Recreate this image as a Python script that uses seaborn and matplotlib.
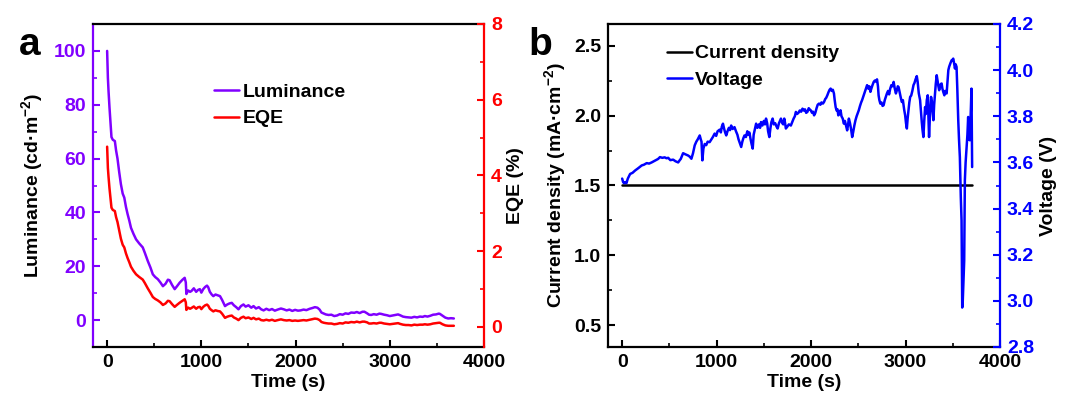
import matplotlib
matplotlib.use("Agg")
import matplotlib.pyplot as plt
from matplotlib.ticker import MultipleLocator, FormatStrFormatter
import seaborn as sns

# ---------------- data ----------------
# (a) luminance / EQE stability trace
time_a = [0, 8, 15, 25, 35, 46, 60, 82, 95, 110, 128, 146, 165, 182, 200, 217, 235, 253, 280, 307,
          340, 378, 400, 431, 460, 485, 510, 538, 565, 592, 620, 645, 663, 690, 717, 740, 770, 800, 823, 835,
          841, 860, 880, 895, 920, 945, 965, 984, 1000, 1020, 1040, 1060, 1073, 1090, 1110, 1127, 1150, 1175, 1198, 1220,
          1240, 1251, 1275, 1300, 1323, 1345, 1370, 1394, 1420, 1447, 1470, 1500, 1530, 1554, 1580, 1610, 1635, 1661, 1690, 1720,
          1750, 1780, 1810, 1845, 1875, 1905, 1935, 1965, 1995, 2025, 2053, 2085, 2115, 2150, 2180, 2205, 2232, 2255, 2275, 2300,
          2321, 2350, 2380, 2410, 2440, 2470, 2500, 2530, 2560, 2590, 2624, 2650, 2680, 2710, 2731, 2760, 2780, 2802, 2830, 2860,
          2890, 2909, 2940, 2970, 3000, 3030, 3060, 3088, 3110, 3140, 3170, 3200, 3230, 3260, 3290, 3320, 3350, 3372, 3400, 3430,
          3460, 3490, 3520, 3532, 3560, 3590, 3620, 3650, 3680]
luminance = [100, 90, 85, 79, 74, 68, 67, 66.5, 63, 60, 55, 50.5, 47, 45.5, 42, 39.4, 37, 34.3, 32, 30,
             28.5, 27, 25, 22, 19.5, 17, 16, 15.2, 14, 12.6, 13.5, 15, 14.8, 13, 11.5, 12.5, 13.9, 15, 15.7, 14,
             9.7, 11, 10.5, 10.8, 11.8, 10.5, 11.2, 11.5, 10.2, 11.5, 12.3, 12.8, 12.2, 10.5, 9.5, 8.9, 9.5, 9.2, 8.9, 7.5,
             6, 5.2, 5.8, 6.2, 6.4, 5.5, 4.8, 4.0, 5.2, 5.8, 5, 5.5, 4.6, 5.2, 4.3, 4.8, 4, 3.6, 4.2, 3.7,
             4.1, 3.5, 3.9, 4.3, 4.0, 3.6, 3.9, 3.4, 3.8, 3.5, 3.6, 3.9, 3.7, 4.2, 4.5, 4.8, 4.6, 3.9, 2.8, 2.4,
             2.1, 1.9, 2.0, 1.5, 1.7, 2.2, 2.0, 2.5, 2.3, 2.8, 2.7, 3.0, 2.6, 3.1, 3.1, 2.5, 2.0, 1.9, 2.2, 2.0,
             2.4, 2.3, 2.0, 1.8, 1.5, 1.7, 1.9, 2.1, 1.8, 1.3, 1.1, 1.0, 0.9, 1.2, 1.0, 1.3, 1.2, 1.5, 1.3, 1.6,
             2.0, 2.1, 2.4, 2.3, 1.6, 0.9, 0.6, 0.7, 0.6]
eqe = [4.76, 4.20, 3.96, 3.66, 3.42, 3.15, 3.09, 3.06, 2.90, 2.77, 2.55, 2.33, 2.17, 2.10, 1.94, 1.82, 1.71, 1.59, 1.48, 1.39,
       1.32, 1.25, 1.16, 1.02, 0.90, 0.79, 0.74, 0.70, 0.65, 0.58, 0.62, 0.69, 0.68, 0.60, 0.53, 0.58, 0.64, 0.69, 0.73, 0.65,
       0.45, 0.51, 0.48, 0.50, 0.54, 0.48, 0.52, 0.53, 0.47, 0.53, 0.57, 0.59, 0.56, 0.48, 0.44, 0.41, 0.44, 0.42, 0.41, 0.35,
       0.28, 0.24, 0.27, 0.29, 0.30, 0.25, 0.22, 0.18, 0.24, 0.27, 0.23, 0.25, 0.21, 0.24, 0.20, 0.22, 0.18, 0.17, 0.19, 0.17,
       0.19, 0.16, 0.18, 0.20, 0.18, 0.17, 0.18, 0.16, 0.17, 0.16, 0.17, 0.18, 0.17, 0.19, 0.21, 0.22, 0.21, 0.18, 0.13, 0.11,
       0.10, 0.09, 0.09, 0.07, 0.08, 0.10, 0.09, 0.12, 0.11, 0.13, 0.12, 0.14, 0.12, 0.14, 0.14, 0.12, 0.09, 0.09, 0.10, 0.09,
       0.11, 0.11, 0.09, 0.08, 0.07, 0.08, 0.09, 0.10, 0.08, 0.06, 0.05, 0.05, 0.04, 0.06, 0.05, 0.06, 0.06, 0.07, 0.06, 0.07,
       0.09, 0.10, 0.11, 0.11, 0.07, 0.04, 0.03, 0.03, 0.03]

# (b) constant-current driving: current density and voltage
time_j = [0, 3700]
current_density = [1.5, 1.5]
time_v = [0, 10, 20, 35, 45, 60, 84, 110, 137, 170, 207, 230, 260, 285, 312, 335, 360, 380, 400, 425,
          450, 470, 487, 510, 540, 565, 593, 610, 620, 635, 645, 670, 698, 715, 733, 750, 768, 785, 800, 812,
          821, 832, 840, 845, 849, 855, 860, 874, 890, 905, 926, 945, 960, 979, 995, 1010, 1032, 1045, 1055, 1067,
          1080, 1090, 1102, 1115, 1130, 1142, 1154, 1170, 1189, 1205, 1220, 1232, 1242, 1252, 1260, 1272, 1283, 1295, 1310, 1325,
          1335, 1347, 1360, 1370, 1382, 1392, 1405, 1418, 1432, 1448, 1460, 1470, 1485, 1500, 1512, 1523, 1535, 1545, 1558, 1570,
          1580, 1593, 1605, 1620, 1635, 1646, 1660, 1670, 1681, 1695, 1705, 1716, 1725, 1733, 1748, 1765, 1786, 1800, 1815, 1828,
          1839, 1852, 1866, 1880, 1895, 1909, 1922, 1935, 1948, 1961, 1975, 1985, 1996, 2010, 2020, 2032, 2045, 2058, 2070, 2084,
          2098, 2110, 2125, 2137, 2150, 2160, 2172, 2185, 2196, 2207, 2218, 2230, 2242, 2250, 2260, 2270, 2280, 2288, 2300, 2312,
          2322, 2335, 2347, 2358, 2370, 2382, 2392, 2400, 2412, 2425, 2435, 2445, 2458, 2470, 2482, 2495, 2505, 2518, 2530, 2540,
          2552, 2565, 2575, 2584, 2593, 2605, 2617, 2628, 2638, 2650, 2663, 2675, 2688, 2698, 2708, 2715, 2723, 2733, 2745, 2757,
          2768, 2780, 2792, 2803, 2815, 2826, 2838, 2850, 2862, 2874, 2886, 2898, 2910, 2918, 2926, 2940, 2950, 2961, 2972, 2985,
          2996, 3005, 3014, 3022, 3032, 3040, 3049, 3060, 3072, 3084, 3095, 3106, 3119, 3128, 3140, 3154, 3163, 3172, 3180, 3189,
          3198, 3207, 3215, 3225, 3235, 3242, 3249, 3258, 3270, 3280, 3288, 3295, 3303, 3312, 3320, 3330, 3340, 3348, 3356, 3365,
          3373, 3382, 3390, 3400, 3411, 3420, 3428, 3435, 3442, 3453, 3462, 3475, 3488, 3497, 3505, 3514, 3523, 3531, 3540, 3548,
          3558, 3566, 3575, 3585, 3593, 3597, 3600, 3605, 3610, 3615, 3621, 3624, 3628, 3636, 3646, 3655, 3663, 3668, 3672, 3677,
          3681, 3688, 3693, 3698, 3702, 3705]
voltage = [3.53, 3.515, 3.51, 3.515, 3.51, 3.53, 3.55, 3.555, 3.565, 3.575, 3.587, 3.59, 3.597, 3.595, 3.60, 3.605, 3.61, 3.615, 3.623, 3.62,
           3.622, 3.618, 3.62, 3.61, 3.612, 3.605, 3.60, 3.61, 3.615, 3.63, 3.64, 3.635, 3.63, 3.625, 3.616, 3.64, 3.674, 3.69, 3.70, 3.71,
           3.717, 3.70, 3.69, 3.64, 3.609, 3.64, 3.66, 3.68, 3.675, 3.69, 3.688, 3.70, 3.71, 3.725, 3.715, 3.735, 3.742, 3.73, 3.755, 3.768,
           3.745, 3.73, 3.717, 3.735, 3.75, 3.74, 3.76, 3.745, 3.753, 3.735, 3.72, 3.70, 3.688, 3.675, 3.667, 3.69, 3.705, 3.717, 3.71, 3.735,
           3.72, 3.73, 3.70, 3.68, 3.66, 3.72, 3.745, 3.768, 3.75, 3.765, 3.75, 3.775, 3.76, 3.78, 3.765, 3.79, 3.77, 3.735, 3.71, 3.75,
           3.775, 3.79, 3.765, 3.77, 3.755, 3.747, 3.77, 3.78, 3.79, 3.77, 3.765, 3.79, 3.77, 3.747, 3.755, 3.765, 3.76, 3.775, 3.79, 3.80,
           3.819, 3.81, 3.815, 3.825, 3.82, 3.833, 3.825, 3.83, 3.815, 3.819, 3.835, 3.83, 3.826, 3.815, 3.82, 3.804, 3.815, 3.835, 3.85, 3.855,
           3.85, 3.86, 3.855, 3.862, 3.875, 3.88, 3.891, 3.905, 3.915, 3.92, 3.91, 3.915, 3.899, 3.87, 3.84, 3.825, 3.83, 3.804, 3.81, 3.826,
           3.80, 3.79, 3.768, 3.78, 3.76, 3.739, 3.765, 3.79, 3.77, 3.74, 3.71, 3.73, 3.76, 3.783, 3.80, 3.815, 3.826, 3.845, 3.86, 3.87,
           3.885, 3.90, 3.913, 3.925, 3.935, 3.92, 3.93, 3.906, 3.92, 3.935, 3.949, 3.955, 3.95, 3.96, 3.93, 3.89, 3.87, 3.855, 3.86, 3.845,
           3.848, 3.87, 3.885, 3.899, 3.91, 3.895, 3.92, 3.935, 3.93, 3.949, 3.92, 3.899, 3.915, 3.93, 3.927, 3.90, 3.88, 3.862, 3.87, 3.83,
           3.804, 3.77, 3.747, 3.79, 3.83, 3.86, 3.884, 3.89, 3.91, 3.935, 3.945, 3.96, 3.974, 3.95, 3.90, 3.87, 3.82, 3.775, 3.74, 3.71,
           3.78, 3.84, 3.81, 3.87, 3.891, 3.80, 3.71, 3.80, 3.884, 3.86, 3.82, 3.783, 3.85, 3.90, 3.94, 3.978, 3.95, 3.93, 3.913, 3.93,
           3.94, 3.942, 3.92, 3.905, 3.891, 3.91, 3.905, 3.899, 3.94, 4.0, 4.015, 4.03, 4.043, 4.045, 4.05, 4.03, 4.007, 4.025, 4.014, 3.92,
           3.783, 3.70, 3.623, 3.45, 3.348, 3.15, 2.971, 2.99, 3.05, 3.12, 3.174, 3.35, 3.522, 3.60, 3.667, 3.72, 3.797, 3.70, 3.74, 3.72,
           3.696, 3.78, 3.85, 3.92, 3.75, 3.58]

# ---------------- style ----------------
sns.set_style("ticks")
plt.rcParams['font.family'] = ['Liberation Sans', 'DejaVu Sans']
plt.rcParams['font.weight'] = 'bold'
plt.rcParams['axes.labelweight'] = 'bold'
plt.rcParams['text.color'] = 'black'
plt.rcParams['axes.labelcolor'] = 'black'
plt.rcParams['xtick.color'] = 'black'
plt.rcParams['ytick.color'] = 'black'
plt.rcParams['axes.edgecolor'] = 'black'
plt.rcParams['mathtext.fontset'] = 'custom'
plt.rcParams['mathtext.rm'] = 'Liberation Sans:bold'
plt.rcParams['mathtext.bf'] = 'Liberation Sans:bold'
plt.rcParams['mathtext.default'] = 'bf'

PURPLE = '#8000FF'
RED = '#FF0000'
BLUE = '#0000FF'
FS = 14
LW = 1.8
W, H = 1073, 401


def style_axis(ax):
    ax.tick_params(which='major', direction='in', length=5, width=1.5, labelsize=FS, pad=5)
    ax.tick_params(which='minor', direction='in', length=3, width=1.2)
    for s in ax.spines.values():
        s.set_linewidth(1.6)


fig = plt.figure(figsize=(W / 100, H / 100), dpi=100)

# ---- panel a ----
axA = fig.add_axes([93 / W, 1 - 347 / H, 391 / W, 323 / H])
axA2 = axA.twinx()
sns.lineplot(x=time_a, y=luminance, ax=axA, color=PURPLE, lw=LW, label='Luminance', legend=False)
sns.lineplot(x=time_a, y=eqe, ax=axA2, color=RED, lw=LW, label='EQE', legend=False)

axA.set_xlim(-150, 4000)
axA.set_ylim(-10, 110)
axA2.set_ylim(-0.53, 8)
axA.xaxis.set_major_locator(MultipleLocator(1000))
axA.xaxis.set_minor_locator(MultipleLocator(500))
axA.yaxis.set_major_locator(MultipleLocator(20))
axA.yaxis.set_minor_locator(MultipleLocator(10))
axA2.yaxis.set_major_locator(MultipleLocator(2))
axA2.yaxis.set_minor_locator(MultipleLocator(1))
style_axis(axA)
style_axis(axA2)
axA.tick_params(axis='y', which='both', colors=PURPLE)
axA2.tick_params(axis='y', which='both', colors=RED)
axA.spines['left'].set_color(PURPLE)
axA.spines['right'].set_visible(False)
axA2.spines['right'].set_color(RED)
for s in ('left', 'top', 'bottom'):
    axA2.spines[s].set_visible(False)
axA.set_xlabel('Time (s)', fontsize=FS, labelpad=2)
axA.set_ylabel('Luminance (cd·m$^{-2}$)', fontsize=FS, color='black', labelpad=6)
axA2.set_ylabel('EQE (%)', fontsize=FS, color='black')
for t in axA.get_yticklabels() + axA2.get_yticklabels() + axA.get_xticklabels():
    t.set_fontweight('bold')

hA = axA.get_lines() + axA2.get_lines()
axA2.legend(hA, ['Luminance', 'EQE'], loc='upper left', bbox_to_anchor=(0.29, 0.84),
            frameon=False, fontsize=FS, handlelength=1.3, handletextpad=0.15,
            labelspacing=0.45, borderaxespad=0)

# ---- panel b ----
axB = fig.add_axes([608 / W, 1 - 347 / H, 392 / W, 323 / H])
axB2 = axB.twinx()
sns.lineplot(x=time_j, y=current_density, ax=axB, color='black', lw=LW, label='Current density', legend=False)
sns.lineplot(x=time_v, y=voltage, ax=axB2, color=BLUE, lw=LW, label='Voltage', legend=False)

axB.set_xlim(-150, 4000)
axB.set_ylim(0.345, 2.655)
axB2.set_ylim(2.8, 4.2)
axB.xaxis.set_major_locator(MultipleLocator(1000))
axB.xaxis.set_minor_locator(MultipleLocator(500))
axB.yaxis.set_major_locator(MultipleLocator(0.5))
axB.yaxis.set_minor_locator(MultipleLocator(0.25))
axB2.yaxis.set_major_locator(MultipleLocator(0.2))
axB2.yaxis.set_minor_locator(MultipleLocator(0.1))
style_axis(axB)
style_axis(axB2)
axB2.tick_params(axis='y', which='both', colors=BLUE)
axB.spines['right'].set_visible(False)
axB2.spines['right'].set_color(BLUE)
for s in ('left', 'top', 'bottom'):
    axB2.spines[s].set_visible(False)
axB.set_xlabel('Time (s)', fontsize=FS, labelpad=2)
axB.set_ylabel('Current density (mA·cm$^{-2}$)', fontsize=FS)
axB2.set_ylabel('Voltage (V)', fontsize=FS)
axB.yaxis.set_major_formatter(FormatStrFormatter('%.1f'))
axB2.yaxis.set_major_formatter(FormatStrFormatter('%.1f'))
for t in axB.get_yticklabels() + axB2.get_yticklabels() + axB.get_xticklabels():
    t.set_fontweight('bold')

hB = axB.get_lines() + axB2.get_lines()
axB2.legend(hB, ['Current density', 'Voltage'], loc='upper left', bbox_to_anchor=(0.13, 0.96),
            frameon=False, fontsize=FS, handlelength=1.3, handletextpad=0.15,
            labelspacing=0.45, borderaxespad=0)

# panel letters
fig.text(30 / W, 1 - 45 / H, 'a', fontsize=28, fontweight='bold', ha='center', va='center')
fig.text(540 / W, 1 - 45 / H, 'b', fontsize=28, fontweight='bold', ha='center', va='center')

fig.savefig('out.png', dpi=100)
